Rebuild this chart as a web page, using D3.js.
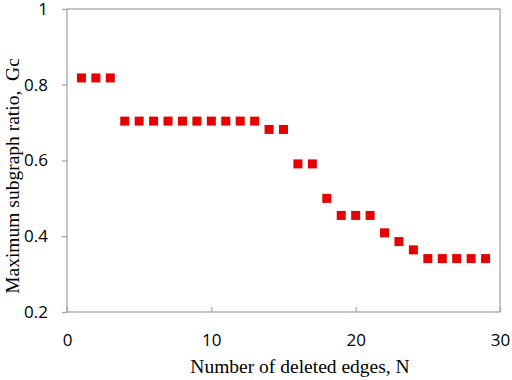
<!DOCTYPE html>
<html>
<head>
<meta charset="utf-8">
<script src="https://cdn.jsdelivr.net/npm/d3@7"></script>
<style>
  body { margin: 0; background: #fff; }
</style>
</head>
<body>
<div id="chart"></div>
<script>
// data
const edges = [1, 2, 3, 4, 5, 6, 7, 8, 9, 10, 11, 12, 13, 14, 15, 16, 17, 18, 19, 20, 21, 22, 23, 24, 25, 26, 27, 28, 29];
const ratio = [0.818, 0.818, 0.818, 0.704, 0.704, 0.704, 0.704, 0.704, 0.704, 0.704, 0.704, 0.704, 0.704,
  0.682, 0.682, 0.591, 0.591, 0.5, 0.455, 0.455, 0.455, 0.409, 0.386, 0.364, 0.341, 0.341, 0.341, 0.341, 0.341];
const xTicks = [0, 10, 20, 30];
const yTicks = [0.2, 0.4, 0.6, 0.8, 1];

const width = 512, height = 380;
const margin = {top: 9, right: 12, bottom: 68, left: 67};
const w = width - margin.left - margin.right;
const h = height - margin.top - margin.bottom;

const svg = d3.select("#chart")
  .append("svg")
    .attr("width", width)
    .attr("height", height);

const g = svg.append("g")
  .attr("transform", `translate(${margin.left},${margin.top})`);

const x = d3.scaleLinear().domain([0, 30]).range([0, w]);
const y = d3.scaleLinear().domain([0.2, 1]).range([h, 0]);

// plot frame
g.append("rect")
  .attr("width", w)
  .attr("height", h)
  .attr("fill", "none")
  .attr("stroke", "#a6a6a6")
  .attr("stroke-width", 1.3);

// x axis, ticks point inward
const xAxis = g.append("g")
  .attr("transform", `translate(0,${h})`)
  .call(d3.axisBottom(x).tickValues(xTicks).tickSizeInner(-5).tickSizeOuter(0).tickPadding(22));
xAxis.select(".domain").remove();

// y axis, ticks point outward
const yAxis = g.append("g")
  .call(d3.axisLeft(y).tickValues(yTicks).tickSizeInner(5).tickSizeOuter(0).tickPadding(14)
    .tickFormat(d => d === 1 ? "1" : d3.format(".1f")(d)));
yAxis.select(".domain").remove();

g.selectAll(".tick line").attr("stroke", "#a6a6a6").attr("stroke-width", 1.3);
g.selectAll(".tick text")
  .attr("fill", "#000")
  .style("font-family", "'Open Sans', sans-serif")
  .style("font-size", "17px");

// points
g.selectAll("rect.pt")
  .data(edges)
  .enter()
  .append("rect")
    .attr("class", "pt")
    .attr("x", d => x(d) - 4.5)
    .attr("y", (d, i) => y(ratio[i]) - 4.5)
    .attr("width", 9)
    .attr("height", 9)
    .attr("fill", "#e60000");

// axis titles
svg.append("text")
  .attr("x", 300)
  .attr("y", 373)
  .attr("text-anchor", "middle")
  .style("font-family", "'Liberation Serif', serif")
  .style("font-size", "19.5px")
  .text("Number of deleted edges, N");

svg.append("text")
  .attr("transform", "translate(19,176) rotate(-90)")
  .attr("text-anchor", "middle")
  .style("font-family", "'Liberation Serif', serif")
  .style("font-size", "19.5px")
  .text("Maximum subgraph ratio,\u00a0 Gc");
</script>
</body>
</html>
